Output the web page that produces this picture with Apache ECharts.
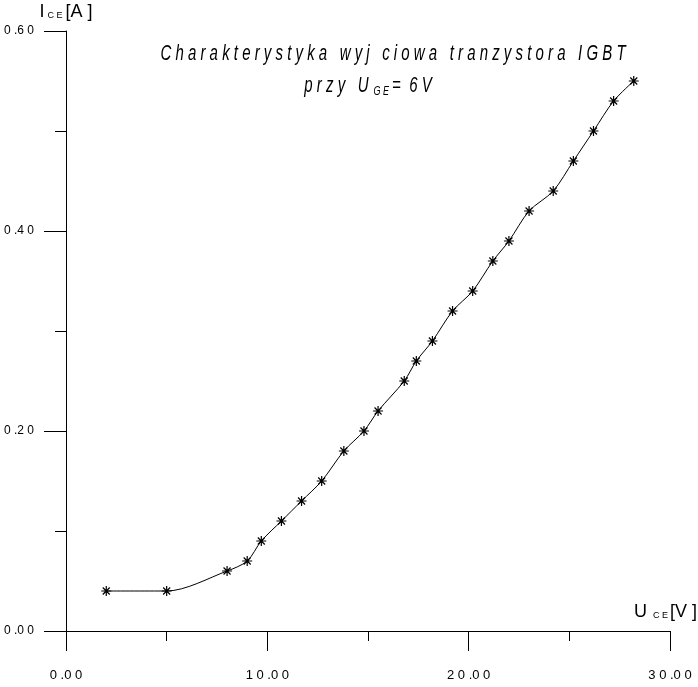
<!DOCTYPE html>
<html>
<head>
<meta charset="utf-8">
<script src="https://cdn.jsdelivr.net/npm/echarts@6/dist/echarts.min.js"></script>
<style>
html,body{margin:0;padding:0;background:#fff;}
#c{width:698px;height:687px;}
</style>
</head>
<body>
<div id="c"></div>
<script>
// U_CE [V]
var uce = [2.0, 5.0, 8.0, 9.0, 9.7, 10.7, 11.7, 12.7, 13.8, 14.8, 15.5, 16.8, 17.4, 18.2, 19.2, 20.2, 21.2, 22.0, 23.0, 24.2, 25.2, 26.2, 27.2, 28.2];
// I_CE [A]
var ice = [0.04, 0.04, 0.06, 0.07, 0.09, 0.11, 0.13, 0.15, 0.18, 0.20, 0.22, 0.25, 0.27, 0.29, 0.32, 0.34, 0.37, 0.39, 0.42, 0.44, 0.47, 0.50, 0.53, 0.55];

var titleLine1 = 'C h a r a k t e r y s t y k a   w y j   c i o w a   t r a n z y s t o r a   I G B T';
var titleLine2 = '{n|p r z y   U}{s|G E}{n|=  6 V}';

var FONT = "'Liberation Sans',Arial,sans-serif";

function fmt(v) {
  var s = v.toFixed(2);
  return s.replace(/(\d)(?=\d)/g, '$1 ').replace('.', ' .');
}

var pts = uce.map(function (x, i) { return [x, ice[i]]; });

var star = 'path://M0,-5L0,5M-5,0L5,0M-3.5,-3.5L3.5,3.5M-3.5,3.5L3.5,-3.5';

var chart = echarts.init(document.getElementById('c'), null, {renderer: 'canvas'});
chart.setOption({
  backgroundColor: '#fff',
  animation: false,
  graphic: [{
    type: 'text', x: 393, y: 54, scaleY: 1.45, silent: true,
    style: {
      text: titleLine1, fill: '#000',
      fontFamily: FONT, fontStyle: 'italic', fontWeight: 'normal', fontSize: 15,
      align: 'center', verticalAlign: 'middle'
    }
  }, {
    type: 'text', x: 368, y: 86, scaleY: 1.45, silent: true,
    style: {
      text: titleLine2, fill: '#000',
      align: 'center', verticalAlign: 'middle',
      rich: {
        n: {fontFamily: FONT, fontStyle: 'italic', fontWeight: 'normal', fontSize: 15, fill: '#000', color: '#000'},
        s: {fontFamily: FONT, fontStyle: 'italic', fontWeight: 'normal', fontSize: 9, fill: '#000', color: '#000', padding: [7, 3, 0, 5]}
      }
    }
  }],
  grid: {left: 66, right: 28, top: 31, bottom: 56, containLabel: false, outerBoundsMode: 'none'},
  xAxis: {
    type: 'value', min: 0, max: 30, interval: 10,
    name: '{b|U}{s|C E}{b|[V ]}',
    nameLocation: 'end', nameGap: 27,
    nameTextStyle: {
      align: 'right', verticalAlign: 'bottom', padding: [0, 0, 10, 0],
      rich: {
        b: {fontFamily: FONT, fontSize: 18, color: '#000'},
        s: {fontFamily: FONT, fontSize: 9, color: '#000', padding: [7, 2, 0, 6]}
      }
    },
    axisLine: {show: true, onZero: false, lineStyle: {color: '#000', width: 1}},
    axisTick: {show: true, inside: false, length: 20, lineStyle: {color: '#000', width: 1}},
    minorTick: {show: true, splitNumber: 2, length: 10, lineStyle: {color: '#000', width: 1}},
    splitLine: {show: false},
    minorSplitLine: {show: false},
    axisLabel: {margin: 38, formatter: fmt, fontFamily: FONT, fontSize: 13, color: '#000'}
  },
  yAxis: {
    type: 'value', min: 0, max: 0.6, interval: 0.2,
    name: '{b|I}{s|C E}{b|[A ]}',
    nameLocation: 'end', nameGap: 10,
    nameTextStyle: {
      rich: {
        b: {fontFamily: FONT, fontSize: 18, color: '#000'},
        s: {fontFamily: FONT, fontSize: 9, color: '#000', padding: [7, 3, 0, 3]}
      }
    },
    axisLine: {show: true, onZero: false, lineStyle: {color: '#000', width: 1}},
    axisTick: {show: true, inside: false, length: 22, lineStyle: {color: '#000', width: 1}},
    minorTick: {show: true, splitNumber: 2, length: 11, lineStyle: {color: '#000', width: 1}},
    splitLine: {show: false},
    minorSplitLine: {show: false},
    axisLabel: {margin: 32, formatter: fmt, fontFamily: FONT, fontSize: 12, color: '#000'}
  },
  series: [{
    type: 'line',
    data: pts,
    smooth: 0.3,
    symbol: star,
    symbolSize: 10,
    showAllSymbol: true,
    lineStyle: {color: '#000', width: 1},
    itemStyle: {color: '#000', borderColor: '#000', borderWidth: 1.2}
  }]
});
</script>
</body>
</html>
